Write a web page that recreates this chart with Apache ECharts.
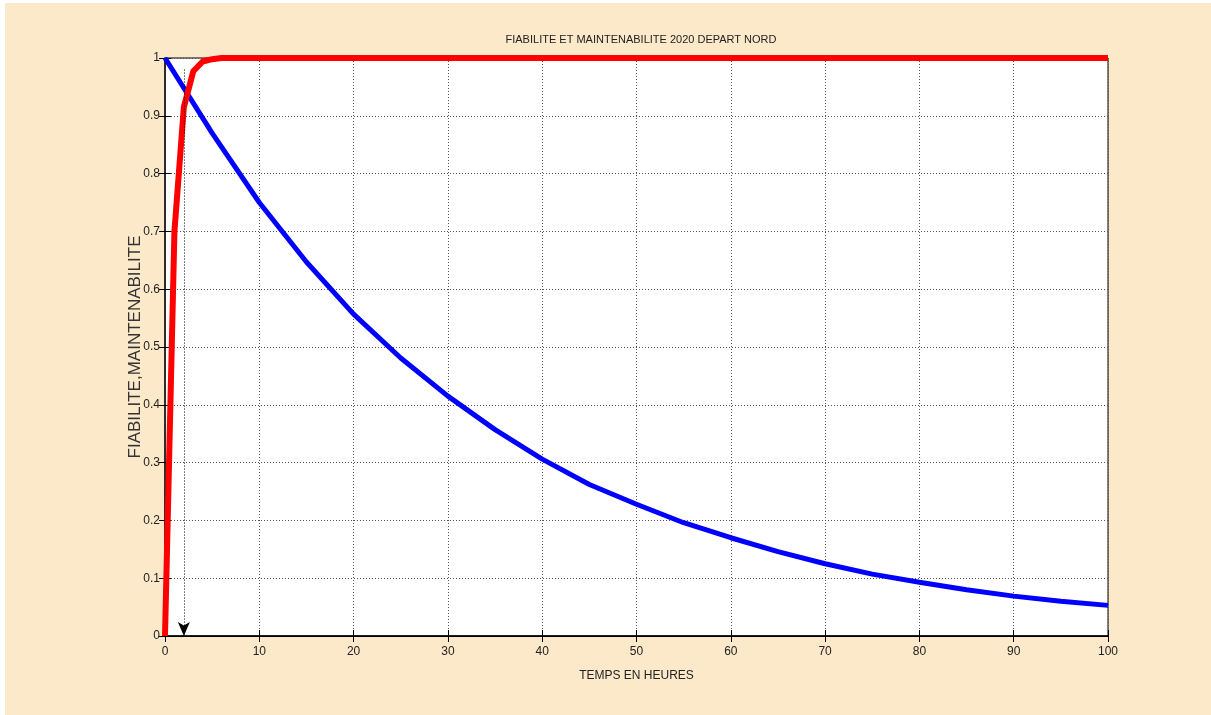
<!DOCTYPE html>
<html>
<head>
<meta charset="utf-8">
<script src="https://cdn.jsdelivr.net/npm/echarts@6/dist/echarts.min.js"></script>
<style>
html,body{margin:0;padding:0;background:#ffffff;}
#c{width:1211px;height:715px;}
</style>
</head>
<body>
<div id="c"></div>
<script>
// Data
const timeBlue = [0, 5, 10, 15, 20, 25, 30, 35, 40, 45, 50, 55, 60, 65, 70, 75, 80, 85, 90, 95, 100];
const fiabilite = [1.0, 0.870, 0.750, 0.647, 0.557, 0.481, 0.415, 0.357, 0.306, 0.262, 0.228, 0.196, 0.170, 0.146, 0.125, 0.107, 0.093, 0.080, 0.069, 0.060, 0.053];
const timeRed = [0, 1, 2, 3, 4, 5, 6, 10, 20, 30, 40, 50, 60, 70, 80, 90, 100];
const maintenabilite = [0, 0.70, 0.915, 0.977, 0.994, 0.998, 1, 1, 1, 1, 1, 1, 1, 1, 1, 1, 1];
const xTicks = [0, 10, 20, 30, 40, 50, 60, 70, 80, 90, 100];
const yTicks = [0, 0.1, 0.2, 0.3, 0.4, 0.5, 0.6, 0.7, 0.8, 0.9, 1];
const arrowX = 2;
const arrowTop = 0.98;

const sans = '"Liberation Sans", Arial, sans-serif';
const gridLine = {show: true, lineStyle: {color: '#555', type: [1, 2], width: 1}};
const tick = {show: true, inside: true, length: 6, lineStyle: {color: '#000'}};

const chart = echarts.init(document.getElementById('c'));
chart.setOption({
  backgroundColor: '#ffffff',
  animation: false,
  graphic: [{
    type: 'rect', z: -100, silent: true,
    shape: {x: 5, y: 3, width: 1206, height: 712},
    style: {fill: '#FCE9CA'}
  }],
  title: {
    text: 'FIABILITE ET MAINTENABILITE 2020 DEPART NORD',
    left: 636, top: 29, textAlign: 'center',
    textStyle: {fontFamily: sans, fontSize: 11, fontWeight: 'normal', color: '#222'}
  },
  grid: {left: 165, top: 58, right: 103, bottom: 79, show: true, backgroundColor: '#ffffff', borderColor: '#000', borderWidth: 1},
  xAxis: [{
    type: 'value', min: 0, max: 100, interval: 10,
    name: 'TEMPS EN HEURES', nameLocation: 'middle', nameGap: 34,
    nameTextStyle: {fontFamily: sans, fontSize: 12, color: '#222'},
    axisLine: {show: true, lineStyle: {color: '#000', width: 1.5}},
    axisTick: tick,
    axisLabel: {fontFamily: sans, fontSize: 12, color: '#222', margin: 10,
      customValues: xTicks},
    splitLine: gridLine
  }, {
    type: 'value', min: 0, max: 100, interval: 10, position: 'top',
    axisLine: {show: true, lineStyle: {color: '#000'}},
    axisTick: tick, axisLabel: {show: false}, splitLine: {show: false}
  }],
  yAxis: [{
    type: 'value', min: 0, max: 1, interval: 0.1,
    name: 'FIABILITE,MAINTENABILITE', nameLocation: 'middle', nameGap: 21,
    nameMoveOverlap: false,
    nameTextStyle: {fontFamily: sans, fontSize: 17, color: '#333'},
    axisLine: {show: true, lineStyle: {color: '#000', width: 1.5}},
    axisTick: tick,
    axisLabel: {fontFamily: sans, fontSize: 12, color: '#222', margin: 5,
      customValues: yTicks,
      formatter: v => String(Math.round(v * 10) / 10)},
    splitLine: gridLine
  }, {
    type: 'value', min: 0, max: 1, interval: 0.1, position: 'right',
    axisLine: {show: true, lineStyle: {color: '#333', width: 1.5}},
    axisTick: tick, axisLabel: {show: false}, splitLine: {show: false}
  }],
  series: [{
    type: 'line', name: 'Fiabilite',
    data: timeBlue.map((t, i) => [t, fiabilite[i]]),
    showSymbol: false, smooth: false, clip: false,
    lineStyle: {color: '#0000ff', width: 5}, z: 3
  }, {
    type: 'line', name: 'Maintenabilite',
    data: timeRed.map((t, i) => [t, maintenabilite[i]]),
    showSymbol: false, smooth: false, clip: false,
    lineStyle: {color: '#ff0000', width: 6, join: 'round'}, z: 4,
    markLine: {
      silent: true, symbol: ['none', 'arrow'], symbolSize: [9, 14],
      label: {show: false},
      lineStyle: {color: '#000', type: [1, 2], width: 1},
      data: [[{coord: [arrowX, arrowTop]}, {coord: [arrowX, 0]}]]
    }
  }]
});
</script>
</body>
</html>
